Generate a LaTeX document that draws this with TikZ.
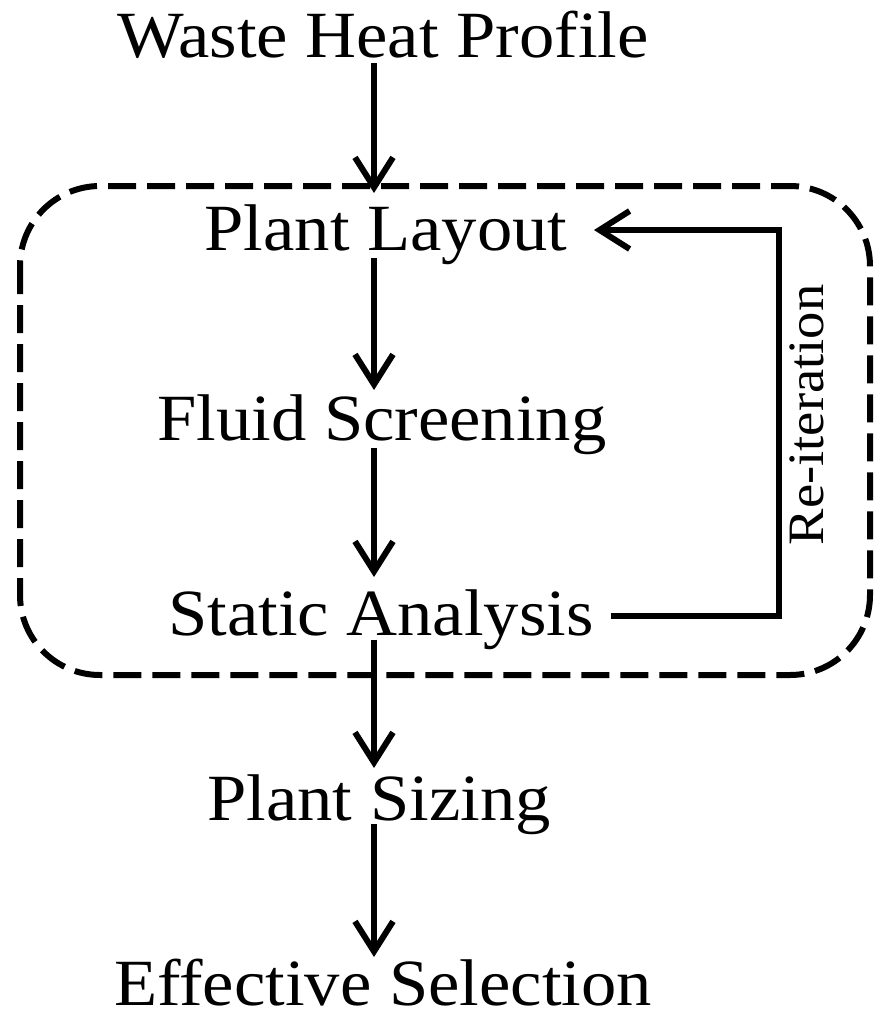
\documentclass[tikz,border=0pt]{standalone}
\usepackage{fontspec}
\setmainfont{Liberation Serif}[FakeStretch=1.07]
\usetikzlibrary{arrows.meta,calc}
\begin{document}
\begin{tikzpicture}[x=1pt,y=-1pt,
  lbl/.style={anchor=base,inner sep=0pt,font=\fontsize{66}{70}\selectfont},
  sidelbl/.style={anchor=base,inner sep=0pt,rotate=90,font=\fontsize{51}{54}\selectfont},
  arr/.style={line width=6pt,-{Straight Barb[length=30pt,width=38pt]}},
  loopline/.style={line width=6pt,line join=miter,-{Straight Barb[length=30pt,width=38pt]}},
  dashbox/.style={line width=6pt,dash pattern=on 28pt off 11pt,rounded corners=80pt}]
\useasboundingbox (0,0) rectangle (883,1013);
\draw[dashbox] (20,186) rectangle (870,675);
\node[lbl] (wh) at (383,57) {Waste Heat Profile};
\node[lbl] (pl) at (386,250) {Plant Layout};
\node[lbl] (fs) at (382,440) {Fluid Screening};
\node[lbl] (sa) at (381,635) {Static Analysis};
\node[lbl] (ps) at (379,820) {Plant Sizing};
\node[lbl] (es) at (383,1005) {Effective Selection};
\node[sidelbl] (ri) at (823,415) {Re-iteration};
\draw[arr] ($(wh.base)+(-9,6)$) -- ($(pl.base)+(-12,-57)$);
\draw[arr] ($(pl.base)+(-12,8)$) -- ($(fs.base)+(-8,-50)$);
\draw[arr] ($(fs.base)+(-8,8)$) -- ($(sa.base)+(-7,-58)$);
\draw[arr] ($(sa.base)+(-7,5)$) -- ($(ps.base)+(-5,-52)$);
\draw[arr] ($(ps.base)+(-5,4)$) -- ($(es.base)+(-9,-48)$);
\draw[loopline] ($(sa.base)+(230,-19)$) -| ($(pl.base)+(393,-20)$) -- ($(pl.base)+(208,-20)$);
\end{tikzpicture}
\end{document}
